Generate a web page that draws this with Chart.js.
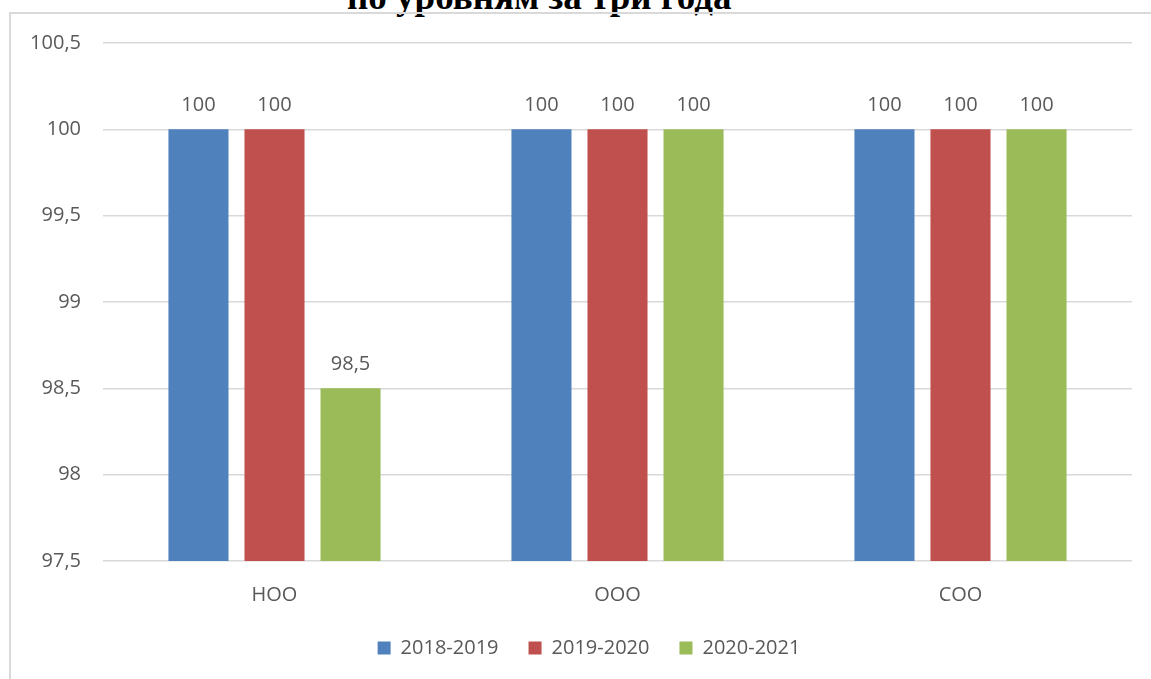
<!DOCTYPE html>
<html>
<head>
<meta charset="utf-8">
<script src="https://cdn.jsdelivr.net/npm/chart.js@4.4.1/dist/chart.umd.min.js"></script>
<style>
  html, body { margin: 0; padding: 0; background: #fff; overflow: hidden; }
  .page { position: relative; width: 1151px; height: 679px; overflow: hidden; }
  .doc-title {
    position: absolute; left: 347px; top: -25px; white-space: nowrap;
    font-family: "Liberation Serif", serif; font-weight: bold; font-size: 37px; color: #000;
  }
  .frame {
    position: absolute; left: 9px; top: 12px; width: 1300px; height: 800px;
    border-left: 2px solid #d9d9d9; border-top: 2px solid #d9d9d9;
  }
  .chart-box { position: absolute; left: 0; top: 0; width: 1151px; height: 679px; }
</style>
</head>
<body>
<div class="page">
  <div class="doc-title">по уровням за три года</div>
  <div class="frame"></div>
  <div class="chart-box"><canvas id="levels" width="1151" height="679"></canvas></div>
</div>
<script>
const levels = ['НОО', 'ООО', 'СОО'];
const years = ['2018-2019', '2019-2020', '2020-2021'];
const values2018 = [100, 100, 100];
const values2019 = [100, 100, 100];
const values2020 = [98.5, 100, 100];
const colors = ['#4F81BD', '#C0504D', '#9BBB59'];

const textColor = '#595959';
const fontFamily = '"Open Sans", sans-serif';

const fmt = v => String(Math.round(v * 10) / 10).replace('.', ',');

// bar value labels, no datalabels plugin available
const valueLabels = {
  id: 'valueLabels',
  afterDatasetsDraw(chart) {
    const ctx = chart.ctx;
    ctx.save();
    ctx.font = `20px ${fontFamily}`;
    ctx.fillStyle = textColor;
    ctx.textAlign = 'center';
    ctx.textBaseline = 'alphabetic';
    chart.data.datasets.forEach((ds, i) => {
      chart.getDatasetMeta(i).data.forEach((bar, j) => {
        ctx.fillText(fmt(ds.data[j]), bar.x, bar.y - 18);
      });
    });
    ctx.restore();
  }
};

// nudge the legend a bit right and up, like the original
const legendNudge = {
  id: 'legendNudge',
  afterLayout(chart) {
    chart.legend.left += 46;
    chart.legend.top -= 21;
  }
};

const series = [values2018, values2019, values2020];

new Chart(document.getElementById('levels'), {
  type: 'bar',
  data: {
    labels: levels,
    datasets: series.map((vals, i) => ({
      label: years[i],
      data: vals,
      backgroundColor: colors[i],
      categoryPercentage: 0.665,
      barPercentage: 0.79
    }))
  },
  plugins: [valueLabels, legendNudge],
  options: {
    responsive: false,
    animation: false,
    maintainAspectRatio: false,
    layout: { padding: { top: 43, right: 19, left: 0, bottom: -10 } },
    scales: {
      y: {
        min: 97.5,
        max: 100.5,
        ticks: {
          stepSize: 0.5,
          padding: 22,
          color: textColor,
          font: { family: fontFamily, size: 20 },
          callback: v => fmt(v)
        },
        grid: { color: '#d9d9d9', lineWidth: 1.5, drawTicks: false },
        border: { display: false },
        afterFit: s => { s.width = 103; }
      },
      x: {
        ticks: {
          padding: 22,
          color: textColor,
          font: { family: fontFamily, size: 20 }
        },
        grid: { display: false, drawTicks: false },
        border: { display: false }
      }
    },
    plugins: {
      legend: {
        position: 'bottom',
        labels: {
          boxWidth: 13,
          boxHeight: 13,
          padding: 30,
          color: textColor,
          font: { family: fontFamily, size: 20 }
        }
      },
      tooltip: { enabled: false },
      title: { display: false }
    }
  }
});
</script>
</body>
</html>
